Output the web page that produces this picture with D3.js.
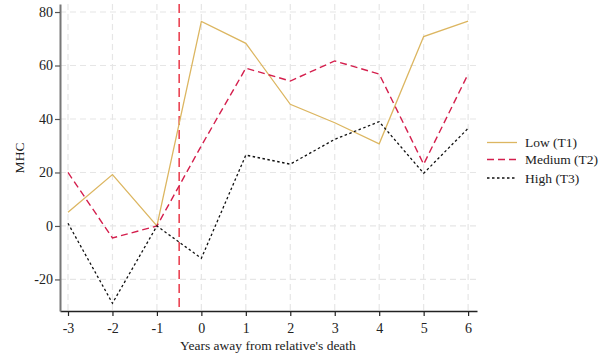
<!DOCTYPE html>
<html>
<head>
<meta charset="utf-8">
<script src="https://cdn.jsdelivr.net/npm/d3@7"></script>
<style>
  svg text { font-family: "Liberation Serif", "Times New Roman", serif; }
</style>
</head>
<body style="margin:0;background:#fff">
<svg id="chart" width="609" height="356" style="display:block"></svg>
<script>
// Years relative to the death of a relative
const years = [-3, -2, -1, 0, 1, 2, 3, 4, 5, 6];
// Mean MHC by tercile
const lowT1    = [5.1, 19.2, 0, 76.5, 68.3, 45.5, 38.6, 30.7, 70.8, 76.6];
const mediumT2 = [20, -4.5, 0, 30, 59, 54.2, 61.7, 56.8, 23.1, 56.8];
const highT3   = [1, -28.9, 0, -12.1, 26.5, 23.1, 32.4, 39, 19.7, 36.5];
const yTicks = [-20, 0, 20, 40, 60, 80];
const seriesNames = ["Low (T1)", "Medium (T2)", "High (T3)"];
const eventYear = -0.5;

const series = [
  { name: seriesNames[0], values: lowT1,    color: "#dcb661", dash: null,  width: 1.3 },
  { name: seriesNames[1], values: mediumT2, color: "#d41f4d", dash: "7,4", width: 1.4 },
  { name: seriesNames[2], values: highT3,   color: "#111111", dash: "2.5,2.5", width: 1.3 }
];

const FONT = '"Liberation Serif", "Times New Roman", serif';
const svg = d3.select("#chart");
const plotLeft = 60, plotRight = 477, plotTop = 4, plotBottom = 311;
const fmt = d => String(d); // plain hyphen-minus labels

const x = d3.scaleLinear().domain([-3.18, 6.2]).range([plotLeft, plotRight]);
const y = d3.scaleLinear().domain([-31.8, 83]).range([plotBottom, plotTop]);

// grid
const grid = svg.append("g");
grid.selectAll("line.h").data(yTicks).join("line")
  .attr("x1", plotLeft).attr("x2", plotRight)
  .attr("y1", d => y(d)).attr("y2", d => y(d))
  .attr("stroke", "#e6e6e6").attr("stroke-width", 1.2).attr("stroke-dasharray", "6,4");
grid.selectAll("line.v").data(years).join("line")
  .attr("x1", d => x(d)).attr("x2", d => x(d))
  .attr("y1", plotTop).attr("y2", plotBottom)
  .attr("stroke", "#e6e6e6").attr("stroke-width", 1.2).attr("stroke-dasharray", "6,4");

// axes
const xAxis = svg.append("g").attr("transform", `translate(0,${plotBottom})`)
  .call(d3.axisBottom(x).tickValues(years).tickFormat(fmt).tickSize(5).tickSizeOuter(0))
  .attr("font-family", FONT);
xAxis.select(".domain").attr("stroke", "#222").attr("stroke-width", 1.5);
xAxis.selectAll(".tick line").attr("stroke", "#222").attr("stroke-width", 1.2);
xAxis.selectAll(".tick text").style("font-family", FONT).style("font-size", "14px")
  .attr("fill", "#222").attr("dy", "1.0em");

const yAxis = svg.append("g").attr("transform", `translate(${plotLeft},0)`)
  .call(d3.axisLeft(y).tickValues(yTicks).tickFormat(fmt).tickSize(5).tickSizeOuter(0))
  .attr("font-family", FONT);
yAxis.select(".domain").attr("stroke", "#777").attr("stroke-width", 2);
yAxis.selectAll(".tick line").attr("stroke", "#555").attr("stroke-width", 1.2);
yAxis.selectAll(".tick text").style("font-family", FONT).style("font-size", "14px")
  .attr("fill", "#222").attr("x", -7);

// event marker
svg.append("line")
  .attr("x1", x(eventYear)).attr("x2", x(eventYear))
  .attr("y1", plotTop).attr("y2", plotBottom)
  .attr("stroke", "#e5182b").attr("stroke-width", 1.3).attr("stroke-dasharray", "9,5");

// series lines
const line = d3.line().x((d, i) => x(years[i])).y(d => y(d));
svg.append("g").selectAll("path").data(series).join("path")
  .attr("d", d => line(d.values))
  .attr("fill", "none")
  .attr("stroke", d => d.color)
  .attr("stroke-width", d => d.width)
  .attr("stroke-dasharray", d => d.dash);

// axis titles
svg.append("text").attr("x", 268).attr("y", 350).attr("text-anchor", "middle")
  .style("font-family", FONT).style("font-size", "13.5px")
  .attr("fill", "#222").text("Years away from relative's death");
svg.append("text").attr("transform", "translate(24,158) rotate(-90)").attr("text-anchor", "middle")
  .style("font-family", FONT).style("font-size", "13.5px")
  .attr("fill", "#222").text("MHC");

// legend
const legend = svg.append("g").selectAll("g").data(series).join("g")
  .attr("transform", (d, i) => `translate(487,${[142.5, 159.5, 178][i]})`);
legend.append("line").attr("x1", 0).attr("x2", 30).attr("y1", 0).attr("y2", 0)
  .attr("stroke", d => d.color).attr("stroke-width", d => d.width)
  .attr("stroke-dasharray", d => d.dash);
legend.append("text").attr("x", 38).attr("y", 0).attr("dy", "0.35em")
  .style("font-family", FONT).style("font-size", "13.5px")
  .attr("fill", "#222").text(d => d.name);
</script>
</body>
</html>
